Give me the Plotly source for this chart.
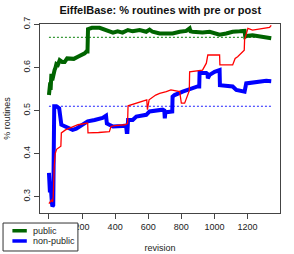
import plotly.graph_objects as go

# ---- data ----
public_rev = [0, 5, 8, 10, 12, 15, 20, 24, 28, 34, 40, 45, 54, 65, 80, 95, 110, 135, 150, 175,
              195, 216, 226, 233, 236, 260, 306, 347, 387, 415, 445, 477, 506, 548, 588, 608,
              626, 669, 709, 747, 790, 830, 850, 855, 868, 928, 971, 1031, 1071, 1110, 1152,
              1182, 1186, 1192, 1230, 1291, 1343]
public_val = [0.536, 0.55, 0.565, 0.548, 0.56, 0.585, 0.57, 0.578, 0.59, 0.594, 0.600, 0.608,
              0.606, 0.617, 0.613, 0.613, 0.621, 0.621, 0.62, 0.625, 0.628, 0.633, 0.637, 0.637,
              0.689, 0.692, 0.692, 0.687, 0.681, 0.684, 0.681, 0.687, 0.684, 0.687, 0.683, 0.688,
              0.683, 0.679, 0.679, 0.679, 0.683, 0.685, 0.691, 0.684, 0.683, 0.681, 0.683, 0.676,
              0.679, 0.683, 0.684, 0.685, 0.672, 0.673, 0.675, 0.671, 0.668]

nonpublic_rev = [0, 3, 6, 9, 12, 15, 18, 21, 26, 29, 32, 45, 62, 75, 125, 143, 165, 204, 234,
                 276, 324, 345, 350, 365, 387, 445, 466, 470, 474, 478, 506, 528, 588, 608,
                 687, 697, 700, 703, 709, 745, 747, 759, 808, 860, 898, 908, 910, 951, 958,
                 960, 971, 1001, 1021, 1031, 1033, 1110, 1132, 1160, 1182, 1192, 1253, 1313, 1343]
nonpublic_val = [0.355, 0.33, 0.31, 0.335, 0.30, 0.32, 0.285, 0.277, 0.28, 0.40, 0.51, 0.51,
                 0.505, 0.467, 0.46, 0.455, 0.458, 0.467, 0.475, 0.478, 0.483, 0.488, 0.47,
                 0.467, 0.463, 0.464, 0.465, 0.45, 0.45, 0.478, 0.478, 0.486, 0.49, 0.498,
                 0.502, 0.5, 0.482, 0.494, 0.496, 0.498, 0.532, 0.536, 0.544, 0.552, 0.556,
                 0.556, 0.587, 0.587, 0.585, 0.575, 0.583, 0.59, 0.594, 0.594, 0.559, 0.556,
                 0.548, 0.546, 0.544, 0.563, 0.567, 0.569, 0.568]

all_rev = [0, 8, 15, 22, 26, 32, 38, 46, 60, 72, 75, 100, 125, 155, 175, 234, 236, 300, 365,
           375, 400, 460, 475, 478, 528, 591, 595, 605, 645, 669, 709, 737, 790, 800, 820, 848,
           850, 928, 951, 960, 1031, 1033, 1110, 1125, 1140, 1162, 1180, 1182, 1192, 1202,
           1230, 1291, 1333, 1343]
all_val = [0.284, 0.29, 0.292, 0.288, 0.30, 0.37, 0.40, 0.41, 0.413, 0.417, 0.448, 0.455,
           0.459, 0.464, 0.467, 0.471, 0.448, 0.449, 0.451, 0.463, 0.465, 0.467, 0.47, 0.511,
           0.517, 0.525, 0.502, 0.525, 0.536, 0.54, 0.544, 0.548, 0.544, 0.517, 0.517, 0.546,
           0.59, 0.594, 0.61, 0.629, 0.629, 0.606, 0.606, 0.621, 0.625, 0.633, 0.64, 0.664,
           0.675, 0.691, 0.687, 0.691, 0.693, 0.698]

ref_span = [0, 1343]
public_ref = 0.67
nonpublic_ref = 0.51

x_ticks = [0, 200, 400, 600, 800, 1000, 1200]
y_ticks = [0.3, 0.4, 0.5, 0.6, 0.7]

legend_labels = ["public", "non-public"]
legend_colors = ["#006400", "blue"]

fig = go.Figure()
fig.add_trace(go.Scatter(x=ref_span, y=[public_ref] * 2, mode="lines",
                         line=dict(color="#3a9a3a", width=1.2, dash="2px,2px"), showlegend=False))
fig.add_trace(go.Scatter(x=ref_span, y=[nonpublic_ref] * 2, mode="lines",
                         line=dict(color="#2020ff", width=1.2, dash="2px,2px"), showlegend=False))
fig.add_trace(go.Scatter(x=public_rev, y=public_val, mode="lines", name="public",
                         line=dict(color="#006400", width=4), showlegend=False))
fig.add_trace(go.Scatter(x=nonpublic_rev, y=nonpublic_val, mode="lines", name="non-public",
                         line=dict(color="blue", width=4), showlegend=False))
fig.add_trace(go.Scatter(x=all_rev, y=all_val, mode="lines", showlegend=False,
                         line=dict(color="red", width=1.3)))

# compact R-style legend box (paper coordinates, bottom-left corner of the figure)
fig.add_shape(type="rect", xref="paper", yref="paper", x0=-0.154, x1=0.158, y0=-0.201,
              y1=-0.053, line=dict(color="#333", width=1), fillcolor="white", layer="above")
for i, (lab, col) in enumerate(zip(legend_labels, legend_colors)):
    yy = -0.094 - i * 0.054
    fig.add_shape(type="line", xref="paper", yref="paper", x0=-0.115, x1=-0.055, y0=yy, y1=yy,
                  line=dict(color=col, width=3.5), layer="above")
    fig.add_annotation(x=-0.036, y=yy, xref="paper", yref="paper", text=lab, showarrow=False,
                       xanchor="left", yanchor="middle", font=dict(size=9, color="#222"))

axis_common = dict(showgrid=False, zeroline=False, showline=True, linecolor="#444",
                   linewidth=1, mirror=True, ticks="outside", ticklen=5, tickcolor="#444",
                   tickfont=dict(size=9, color="#222"))
fig.update_layout(
    width=294, height=254,
    margin=dict(l=40, r=14, t=24, b=41, autoexpand=False),
    paper_bgcolor="white", plot_bgcolor="white", showlegend=False,
    font=dict(family="Liberation Sans, Arial, sans-serif", size=9, color="#222"),
    title=dict(text="<b>EiffelBase: % routines with pre or post</b>", x=0.545, xanchor="center",
               y=0.96, yanchor="middle", font=dict(size=11, color="#111")),
    xaxis=dict(range=[-54, 1396], tickvals=x_ticks, ticktext=[str(v) for v in x_ticks],
               title=dict(text="revision", standoff=13, font=dict(size=9)), **axis_common),
    yaxis=dict(range=[0.262, 0.701], tickvals=y_ticks, ticktext=[f"{v:.1f}" for v in y_ticks],
               tickangle=-90, title=dict(text="% routines", standoff=10, font=dict(size=9)),
               **axis_common),
)

fig.write_html("out.html", config={"displayModeBar": False},
               post_script="document.body.style.margin='0';document.body.style.overflow='hidden';")
